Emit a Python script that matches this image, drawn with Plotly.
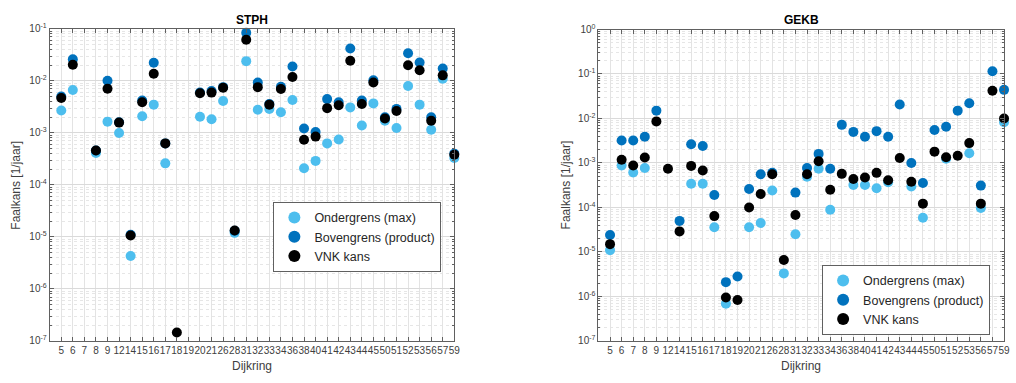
import plotly.graph_objects as go

dijkring = ["5", "6", "7", "8", "9", "12", "14", "15", "16", "17", "18", "19", "20", "21", "26", "28",
            "31", "32", "33", "34", "36", "38", "40", "41", "42", "43", "44", "45", "50", "51", "52",
            "53", "56", "57", "59"]

# STPH
stph_onder = [2.7e-3, 6.7e-3, None, 4.1e-4, 1.65e-3, 1.0e-3, 4.3e-6, 2.1e-3, 3.5e-3, 2.6e-4, None, None,
              2.05e-3, 1.84e-3, 4.1e-3, 1.2e-5, 2.4e-2, 2.8e-3, 2.9e-3, 2.5e-3, 4.3e-3, 2.1e-4, 2.9e-4,
              6.3e-4, 7.5e-4, 3.1e-3, 1.39e-3, 3.7e-3, 1.72e-3, 1.24e-3, 8.0e-3, 3.5e-3, 1.15e-3,
              1.1e-2, 3.3e-4]
stph_boven = [5.0e-3, 2.6e-2, None, 4.6e-4, 1.01e-2, 1.6e-3, 1.1e-5, 4.2e-3, 2.24e-2, 6.3e-4, None, None,
              6.0e-3, 6.4e-3, 7.6e-3, 1.32e-5, 8.4e-2, 9.3e-3, 3.6e-3, 7.7e-3, 1.9e-2, 1.22e-3, 1.04e-3,
              4.47e-3, 3.9e-3, 4.2e-2, 4.2e-3, 1.03e-2, 2.0e-3, 2.9e-3, 3.4e-2, 2.27e-2, 2.0e-3,
              1.73e-2, 4.0e-4]
stph_vnk = [4.7e-3, 2.05e-2, None, 4.6e-4, 7.1e-3, 1.58e-3, 1.07e-5, 3.9e-3, 1.37e-2, 6.3e-4, 1.46e-7, None,
            5.8e-3, 5.96e-3, 7.4e-3, 1.33e-5, 6.2e-2, 7.6e-3, 3.5e-3, 7.0e-3, 1.19e-2, 7.4e-4, 8.5e-4,
            3.0e-3, 3.4e-3, 2.44e-2, 3.6e-3, 9.3e-3, 1.9e-3, 2.64e-3, 2.0e-2, 1.6e-2, 1.72e-3,
            1.28e-2, 3.8e-4]

# GEKB
gekb_onder = [1.1e-5, 8.8e-4, 6.1e-4, 7.7e-4, None, None, None, 3.4e-4, 3.4e-4, 3.6e-5, 6.9e-7, None,
              3.6e-5, 4.5e-5, 2.4e-4, 3.3e-6, 2.5e-5, 4.9e-4, 7.4e-4, 8.9e-5, None, 3.2e-4, 3.2e-4,
              2.7e-4, 3.7e-4, None, 2.95e-4, 5.9e-5, None, 1.25e-3, None, 1.65e-3, 9.7e-5, None, 8.2e-3]
gekb_boven = [2.4e-5, 3.2e-3, 3.2e-3, 3.9e-3, 1.5e-2, None, 5.0e-5, 2.63e-3, 2.4e-3, 1.9e-4, 2.1e-6, 2.8e-6,
              2.6e-4, 5.6e-4, 6.0e-4, None, 2.16e-4, 7.7e-4, 1.6e-3, 7.4e-4, 7.2e-3, 5.0e-3, 3.9e-3,
              5.2e-3, 3.9e-3, 2.07e-2, 1.0e-3, 3.55e-4, 5.5e-3, 6.5e-3, 1.5e-2, 2.2e-2, 3.1e-4, 0.115, 4.4e-2]
gekb_vnk = [1.5e-5, 1.18e-3, 8.8e-4, 1.33e-3, 8.6e-3, 7.4e-4, 2.9e-5, 8.6e-4, 6.8e-4, 6.4e-5, 9.5e-7, 8.3e-7,
            1.0e-4, 2.0e-4, 5.6e-4, 6.6e-6, 6.8e-5, 5.6e-4, 1.09e-3, 2.5e-4, 5.7e-4, 4.35e-4, 4.7e-4,
            6.0e-4, 4.1e-4, 1.3e-3, 3.8e-4, 1.22e-4, 1.8e-3, 1.35e-3, 1.45e-3, 2.8e-3, 1.22e-4, 4.2e-2, 1.0e-2]

series_names = ["Ondergrens (max)", "Bovengrens (product)", "VNK kans"]
series_colors = ["#4DBEEE", "#0072BD", "#000000"]

W, H = 1016, 383
FONT = "Liberation Sans, Arial, sans-serif"
TXT = "#404040"

fig = go.Figure()

panels = [
    ("x", "y", "legend", [stph_onder, stph_boven, stph_vnk]),
    ("x2", "y2", "legend2", [gekb_onder, gekb_boven, gekb_vnk]),
]
for xa, ya, lg, data in panels:
    for name, color, vals in zip(series_names, series_colors, data):
        fig.add_trace(go.Scatter(
            x=dijkring, y=vals, mode="markers", name=name,
            marker=dict(color=color, size=10, line=dict(width=0)),
            xaxis=xa, yaxis=ya, legend=lg, cliponaxis=False,
        ))

def px_x(p):
    return p / W

def px_y(p):
    return 1 - p / H

major_tick_vals = [10.0 ** k for k in range(-7, 1)]
major_tick_text = ["10<sup>%d</sup>" % k for k in range(-7, 1)]
minor_vals = [m * 10.0 ** k for k in range(-7, 0) for m in range(2, 10)]

def xaxis_cfg(domain):
    return dict(
        domain=domain, type="category", range=[-1, 34],
        tickmode="array", tickvals=dijkring, ticktext=dijkring,
        showgrid=True, gridcolor="#E3E3E3", gridwidth=1,
        showline=True, linecolor="#606060", linewidth=1, mirror="allticks",
        ticks="inside", ticklen=4, tickcolor="#606060",
        tickfont=dict(family=FONT, size=10, color=TXT), tickangle=0,
        zeroline=False, fixedrange=True,
    )

def yaxis_cfg(domain, rng, anchor):
    n = rng[1] - rng[0] + 1
    return dict(
        domain=domain, type="log", range=rng, anchor=anchor,
        tickmode="array", tickvals=major_tick_vals[:n], ticktext=major_tick_text[:n],
        showgrid=True, gridcolor="#DADADA", gridwidth=1,
        showline=True, linecolor="#606060", linewidth=1, mirror="allticks",
        ticks="inside", ticklen=4, tickcolor="#606060",
        tickfont=dict(family=FONT, size=10, color=TXT),
        minor=dict(tickmode="array", tickvals=minor_vals, ticks="inside", ticklen=2,
                   tickcolor="#606060", showgrid=True, gridcolor="#E6E6E6", griddash="dot"),
        zeroline=False, fixedrange=True,
    )

xd1 = [px_x(50), px_x(457)]
xd2 = [px_x(602), px_x(1010)]
yd1 = [px_y(345.7), px_y(22.7)]
yd2 = [px_y(345.7), px_y(23.3)]

legend_common = dict(
    bgcolor="white", bordercolor="#606060", borderwidth=1,
    font=dict(family=FONT, size=12.5, color="#262626"),
    xanchor="left", yanchor="bottom", itemsizing="constant",
    tracegroupgap=0, itemwidth=30,
)

fig.update_layout(
    width=W, height=H,
    margin=dict(l=0, r=0, t=0, b=0),
    paper_bgcolor="white", plot_bgcolor="white",
    showlegend=True,
    xaxis=xaxis_cfg(xd1),
    yaxis=yaxis_cfg(yd1, [-7, -1], "x"),
    xaxis2=dict(xaxis_cfg(xd2), anchor="y2"),
    yaxis2=yaxis_cfg(yd2, [-7, 0], "x2"),
    legend=dict(legend_common, x=px_x(275), y=px_y(274.3)),
    legend2=dict(legend_common, x=px_x(827), y=px_y(339.3)),
    annotations=[
        dict(text="<b>STPH</b>", x=px_x(253.5), y=px_y(13), xref="paper", yref="paper",
             showarrow=False, font=dict(family=FONT, size=12, color="#000000"),
             xanchor="center", yanchor="middle"),
        dict(text="<b>GEKB</b>", x=px_x(806), y=px_y(13), xref="paper", yref="paper",
             showarrow=False, font=dict(family=FONT, size=12, color="#000000"),
             xanchor="center", yanchor="middle"),
        dict(text="Faalkans [1/jaar]", x=px_x(16), y=px_y(184), xref="paper", yref="paper",
             showarrow=False, textangle=-90, font=dict(family=FONT, size=12, color=TXT),
             xanchor="center", yanchor="middle"),
        dict(text="Faalkans [1/jaar]", x=px_x(569), y=px_y(184), xref="paper", yref="paper",
             showarrow=False, textangle=-90, font=dict(family=FONT, size=12, color=TXT),
             xanchor="center", yanchor="middle"),
        dict(text="Dijkring", x=px_x(253.5), y=px_y(372), xref="paper", yref="paper",
             showarrow=False, font=dict(family=FONT, size=12, color=TXT),
             xanchor="center", yanchor="middle"),
        dict(text="Dijkring", x=px_x(806), y=px_y(372), xref="paper", yref="paper",
             showarrow=False, font=dict(family=FONT, size=12, color=TXT),
             xanchor="center", yanchor="middle"),
    ],
)

fig.write_html("out.html", config={"displayModeBar": False},
               post_script="document.body.style.margin='0px';")
